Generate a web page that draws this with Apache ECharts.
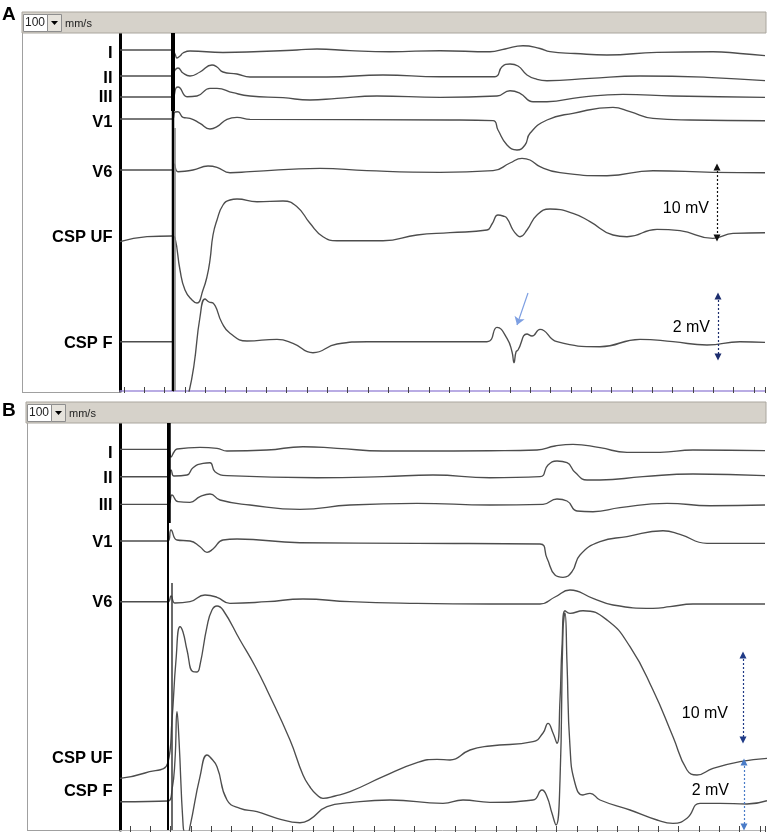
<!DOCTYPE html>
<html><head><meta charset="utf-8">
<script src="https://cdn.jsdelivr.net/npm/echarts@6/dist/echarts.min.js"></script>
<style>html,body{margin:0;padding:0;background:#fff}#c{width:770px;height:834px}</style>
</head><body><div id="c"></div>
<script>
// Time in samples (~0.49 ms each, 100 mm/s sweep); amplitude in display units (up = +)
const leadNames = ['I','II','III','V1','V6','CSP UF','CSP F'];

// ---------- Panel A ----------
const A_I  = [[0,0],[52,0],[55,-4],[57,-8],[60,-6],[63,-3],[70,-1],[103,-2.5],[140,-1.5],[177,0],[197,1],[230,-0.7],[270,-1.7],[320,-0.7],[370,-1.7],[385,1],[403,4.3],[420,1.5],[430,-1.7],[455,-3.5],[487,-5],[537,-2.3],[593,-1.7],[620,-3.5],[645,-5.7]];
const A_II = [[0,0],[52,0],[55,6],[58,8],[63,3],[70,0],[80,4],[92,11],[97,9],[103,4],[117,2],[130,-1],[207,-1],[263,1],[320,-0.7],[375,-0.7],[382,9.3],[390,12],[398,10],[407,1],[417,-3.3],[427,-4.7],[470,-2.3],[520,0],[587,-1.3],[645,-4.7]];
const A_III= [[0,0],[52,0],[56,9],[58,10],[67,0.3],[77,1],[90,8.7],[97,8.7],[113,4.3],[130,1],[163,-0.7],[190,-3],[217,-1.3],[257,1],[320,-0.3],[377,1],[390,6.3],[400,3.7],[413,-4.7],[427,-4.7],[460,-0.3],[503,2.7],[553,1],[645,-0.3]];
const A_V1 = [[0,0],[52,0],[55,7],[58,7.3],[63,1.7],[70,0.7],[80,-4.3],[90,-10],[97,-7.7],[107,-0.3],[117,1.7],[130,-0.3],[330,-1],[373,-1.7],[378,-11],[387,-26],[397,-31],[405,-26],[410,-14.3],[427,-1],[453,5.7],[493,11.7],[510,7.3],[533,0.7],[570,-1],[645,-1.7]];
const A_V6 = [[0,0],[52,0],[54,6],[58,-1.7],[73,0],[88,4],[97,2.7],[110,-2.7],[130,-1.7],[200,1.7],[247,-0.7],[320,-2.3],[373,-0.7],[390,7],[402,11.7],[410,10],[420,3.3],[440,-2.7],[487,-5.7],[533,-0.7],[593,-2.3],[645,-2.7]];
const A_UF = [[0,-1.7],[27,3.3],[52,4],[55,2],[60,-30],[65,-50],[72,-60],[77,-63],[83,-50],[87,-36.7],[90,-20],[93,5],[97,20],[103,35],[110,40],[117,41],[137,38.3],[163,39],[177,33.3],[190,16.7],[203,3.3],[217,-0.7],[263,-0.7],[297,5],[330,7.3],[367,10],[372,16],[378,25],[383,24],[387,21.7],[393,10],[397,5],[400,3.3],[407,10],[417,25],[430,31],[453,26.7],[470,18.3],[493,5],[507,3.3],[537,10.7],[560,9.3],[593,1.7],[613,6.7],[645,7.3]];
const A_F  = [[0,0.3],[52,0.3],[54,-53],[67,-53],[69,-50],[74,-23],[80,25],[85,43],[89,40],[93,39],[102,19],[110,8.7],[127,1],[157,2.7],[173,-1.3],[193,-10.7],[217,-2],[247,0.3],[367,0.3],[377,14.7],[387,3.7],[392,-9.7],[394,-20.7],[396,-10],[398,-8],[407,8],[412,6],[420,12.7],[437,0.3],[480,-4.7],[520,2.7],[553,0.3],[587,-3],[620,0.3],[645,-0.3]];

// ---------- Panel B ----------
const B_I  = [[0,0.7],[48,0.7],[51,-7],[54,-2],[57,1],[80,2.7],[97,1.7],[107,-1],[147,0],[183,3.3],[217,1.7],[263,-1],[297,-1],[370,-0.7],[417,0],[435,4],[453,5.7],[480,2.3],[507,-2.3],[540,-2.3],[573,0],[645,-0.7]];
const B_II = [[0,0.3],[48,0.3],[51,7],[54,1],[67,2],[73,9.3],[83,13.7],[90,14.3],[95,5.3],[107,1.3],[197,-0.7],[263,0.3],[313,2],[370,-0.7],[420,0.3],[428,12],[437,16],[447,14.3],[455,4.7],[467,-3],[480,-3],[523,0.3],[573,3],[645,1.3]];
const B_III= [[0,0.7],[48,0.7],[52,10],[58,3.3],[70,2.7],[80,8.3],[90,11],[100,5],[130,0],[180,-4.3],[230,0],[297,1.7],[370,0],[423,0.7],[437,6],[447,4],[457,-6],[473,-6.7],[500,-2.7],[547,1.7],[590,-0.7],[645,0]];
const B_V1 = [[0,2],[48,2],[51,13],[57,3],[70,2],[80,-3.7],[87,-9.3],[93,-6],[103,3],[117,4],[180,0.3],[297,-0.3],[420,-1],[427,-15.3],[435,-32],[443,-34.3],[452,-28.7],[460,-12],[480,1.3],[507,6.3],[543,12.3],[560,8.7],[587,-0.3],[645,-0.3]];
const B_V6 = [[0,0.3],[48,0.3],[51,6],[55,-1],[70,0.3],[85,7],[97,4.7],[110,-1.3],[147,0.3],[183,3],[230,0.3],[290,-1.3],[370,-2],[420,-2],[435,5],[450,12],[473,3.7],[493,-3],[533,-6.3],[550,-4.7],[573,-2],[645,-2]];
const B_UF = [[0,-8.3],[25,-3],[48,7.7],[52,50],[56,110],[60,143.3],[63,138],[67,120],[73,98.3],[77,98],[80,105],[87,143.3],[92,160],[97,164],[103,160],[120,130],[135,104],[147,80],[170,30],[183,-5],[190,-17],[197,-25],[203,-28.3],[215,-26],[230,-21.7],[263,-6.7],[297,7.3],[317,10.7],[330,10],[350,20],[370,24],[413,28.3],[423,37],[428,46.7],[433,37],[437,26.7],[440,70],[442,123.3],[445,159.3],[450,156.7],[463,159.3],[487,150],[510,123.3],[533,80],[553,33.3],[567,0],[577,-5],[593,1.7],[620,8.3],[647,11.7]];
const B_F  = [[0,0.3],[48,1],[52,12],[55,42],[57,90.3],[59,62],[63,-21.3],[65,-30],[68,-30],[70,-24.7],[80,25.3],[87,47],[90,45],[97,35.3],[107,2],[120,-6.3],[137,-9.7],[157,-16.3],[180,-20.7],[190,-17.3],[207,-4.7],[230,-0.7],[270,2],[323,-1.3],[343,2],[370,-0.3],[413,2],[422,12],[427,5.3],[432,-11.3],[436,-23],[440,22],[443,172],[445,189],[447,139],[450,55.3],[455,18.7],[463,7],[470,8.7],[480,2],[510,-8],[537,-18],[553,-21.3],[567,-16.3],[580,-1.3],[600,-1.3],[627,-2],[647,1.3]];

// Baseline level of each lead (display units below the top of the panel)
const A_offsets = [-17,-43,-64,-86,-137,-207,-309];
const B_offsets = [-27,-54,-82,-120,-179,-347,-379];

// Stimulus artifact times (samples)
const A_stim = 53, B_stim = 48;

// Calibration bars: [time, from, to] in display units
const A_cal10 = [597,-134,-205], A_cal2 = [598,-263,-324];
const B_cal10 = [623,-232,-317], B_cal2 = [624,-339,-404];
const A_pointer = [[408,-260],[397,-292]];
const calLabels = ['10 mV','2 mV'];

const A_traces = [A_I,A_II,A_III,A_V1,A_V6,A_UF,A_F];
const B_traces = [B_I,B_II,B_III,B_V1,B_V6,B_UF,B_F];

const FONT = '"Liberation Sans", Arial, Helvetica, sans-serif';
const chart = echarts.init(document.getElementById('c'), null, {renderer:'canvas'});

function traceSeries(arr, off, xi, yi){
  return {type:'line', xAxisIndex:xi, yAxisIndex:yi, data:arr.map(p=>[p[0], off+p[1]]),
    showSymbol:false, symbol:'none', smooth:0.5, silent:true, animation:false, z:3,
    lineStyle:{color:'#4d4d4d', width:1.35}};
}
function vline(t, y1, y2, xi, yi, color, width, extra){
  return Object.assign({type:'line', xAxisIndex:xi, yAxisIndex:yi, data:[[t,y1],[t,y2]], showSymbol:false, symbol:'none',
    silent:true, animation:false, z:4, lineStyle:{color:color, width:width}}, extra||{});
}
function calLine(c, color){
  return [{coord:[c[0],c[1]], lineStyle:{color:color, type:[2,2], width:1.2}, itemStyle:{color:color}},{coord:[c[0],c[2]]}];
}

const series = [];
A_traces.forEach((a,i)=>series.push(traceSeries(a, A_offsets[i], 0, 0)));
B_traces.forEach((a,i)=>series.push(traceSeries(a, B_offsets[i], 3, 2)));

// artifacts + calibration marks
series.push(vline(A_stim, 0, -358, 0, 0, '#000', 2.5, {markLine:{silent:true, animation:false, symbol:['triangle','triangle'], symbolSize:7, label:{show:false},
  data:[calLine(A_cal10,'#111'), calLine(A_cal2,'#1c2d6e'),
        [{coord:A_pointer[0], symbol:'none', lineStyle:{color:'#7d9fe2', type:'solid', width:1.2}, itemStyle:{color:'#7d9fe2'}},{coord:A_pointer[1], symbol:'arrow', symbolSize:8}]]}}));
series.push(vline(A_stim, 0, -78, 0, 0, '#000', 4));
series.push(vline(A_stim+2, -95, -358, 0, 0, '#8a8a8a', 1.6));
series.push(vline(B_stim, 0, -407, 3, 2, '#000', 2, {markLine:{silent:true, animation:false, symbol:['triangle','triangle'], symbolSize:7, label:{show:false},
  data:[calLine(B_cal10,'#1f3a86'), calLine(B_cal2,'#4a7cc8')]}}));
series.push(vline(B_stim+1, 0, -100, 3, 2, '#000', 3.5));
series.push(vline(B_stim+4, -160, -407, 3, 2, '#3a3a3a', 1.5));

const tickAxis = (grid, pos, max) => ({type:'value', gridIndex:grid, position:pos, min:0, max:max, interval:10,
  axisLine:{show:false}, axisTick:{show:true, inside:true, length:3, lineStyle:{color:'#444', width:1}},
  axisLabel:{show:false}, splitLine:{show:false}});

const option = {
  animation:false,
  backgroundColor:'#fff',
  grid:[
    {left:120, right:5, top:33, height:358},
    {left:124, right:5, top:33, height:357},
    {left:120, right:5, top:423, height:407},
    {left:130, right:5, top:423, height:406}
  ],
  xAxis:[
    {type:'value', gridIndex:0, min:0, max:645, axisLine:{show:true, onZero:false, lineStyle:{color:'#a391dc', width:1.5}}, axisTick:{show:false}, axisLabel:{show:false}, splitLine:{show:false}},
    tickAxis(1,'top',315.5),
    tickAxis(1,'bottom',315.5),
    {type:'value', gridIndex:2, min:0, max:645, axisLine:{show:true, onZero:false, lineStyle:{color:'#b5b5b5', width:1}}, axisTick:{show:false}, axisLabel:{show:false}, splitLine:{show:false}},
    tickAxis(3,'top',312.5),
    tickAxis(3,'bottom',312.5)
  ],
  yAxis:[
    {type:'value', gridIndex:0, min:-358, max:0, axisLine:{show:true, onZero:false, lineStyle:{color:'#000', width:3}}, axisTick:{show:false}, axisLabel:{show:false}, splitLine:{show:false}},
    {type:'value', gridIndex:1, min:0, max:1, show:false},
    {type:'value', gridIndex:2, min:-407, max:0, axisLine:{show:true, onZero:false, lineStyle:{color:'#000', width:3}}, axisTick:{show:false}, axisLabel:{show:false}, splitLine:{show:false}},
    {type:'value', gridIndex:3, min:0, max:1, show:false}
  ],
  series: series
};

// ---------- static decorations: toolbars, panel letters, lead labels ----------
const A_labelY = [53,78.5,97.5,122.5,172,237,343.5];
const B_labelY = [453.5,478,505.5,542.5,602.5,758,791.5];
const g = [];
function toolbar(x, y){
  g.push({type:'rect', shape:{x:x, y:y, width:766-x, height:21}, style:{fill:'#d6d2ca', stroke:'#aaa69e', lineWidth:1}, z:1});
  g.push({type:'rect', shape:{x:x+1.5, y:y+2.5, width:24, height:17}, style:{fill:'#fff', stroke:'#8e8e8e', lineWidth:1}, z:2});
  g.push({type:'rect', shape:{x:x+25.5, y:y+2.5, width:14, height:17}, style:{fill:'#e6e3dc', stroke:'#8e8e8e', lineWidth:1}, z:2});
  g.push({type:'polygon', shape:{points:[[x+29,y+9],[x+36,y+9],[x+32.5,y+13]]}, style:{fill:'#000'}, z:3});
  g.push({type:'text', style:{x:x+3, y:y+11, text:'100', font:'12px '+FONT, fill:'#222', verticalAlign:'middle'}, z:3});
  g.push({type:'text', style:{x:x+43, y:y+11.5, text:'mm/s', font:'11px '+FONT, fill:'#222', verticalAlign:'middle'}, z:3});
}
toolbar(22, 12);
toolbar(26, 402);
// frames
g.push({type:'line', shape:{x1:22.5,y1:33,x2:22.5,y2:393}, style:{stroke:'#a0a0a0', lineWidth:1}});
g.push({type:'line', shape:{x1:22,y1:392.5,x2:120,y2:392.5}, style:{stroke:'#a0a0a0', lineWidth:1}});
g.push({type:'line', shape:{x1:27.5,y1:423,x2:27.5,y2:830}, style:{stroke:'#a0a0a0', lineWidth:1}});
g.push({type:'line', shape:{x1:27,y1:830.5,x2:120,y2:830.5}, style:{stroke:'#a0a0a0', lineWidth:1}});
// panel letters
g.push({type:'text', style:{x:2, y:15, text:'A', font:'bold 19px '+FONT, fill:'#000', verticalAlign:'middle'}});
g.push({type:'text', style:{x:2, y:411, text:'B', font:'bold 19px '+FONT, fill:'#000', verticalAlign:'middle'}});
leadNames.forEach((n,i)=>{
  g.push({type:'text', style:{x:112.5, y:A_labelY[i], text:n, font:'bold 16.5px '+FONT, fill:'#000', align:'right', verticalAlign:'middle'}});
  g.push({type:'text', style:{x:112.5, y:B_labelY[i], text:n, font:'bold 16.5px '+FONT, fill:'#000', align:'right', verticalAlign:'middle'}});
});
// calibration labels
[[709,209],[710,328],[728,714],[729,791]].forEach((p,i)=>{
  g.push({type:'text', style:{x:p[0], y:p[1], text:calLabels[i%2], font:'16px '+FONT, fill:'#000', align:'right', verticalAlign:'middle'}});
});
option.graphic = g;
chart.setOption(option);
</script></body></html>
